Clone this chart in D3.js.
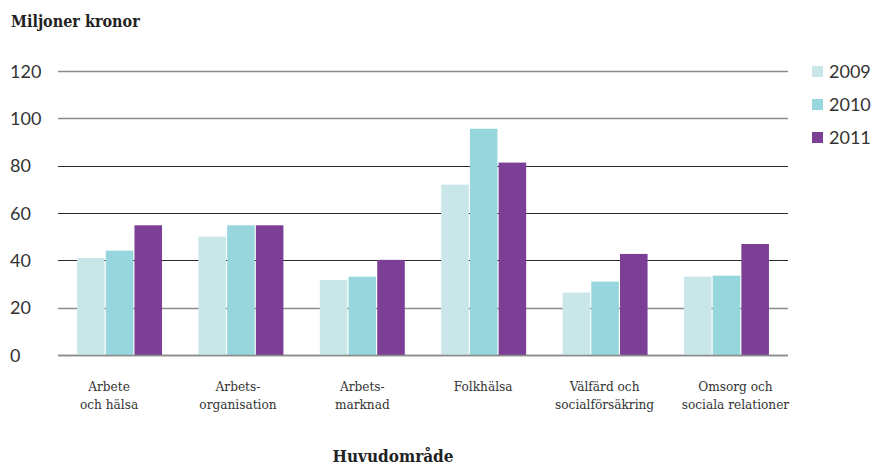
<!DOCTYPE html>
<html><head><meta charset="utf-8">
<script src="https://cdn.jsdelivr.net/npm/d3@7"></script>
<style>body{margin:0;background:#fff}</style>
</head><body>
<svg id="c" width="878" height="465"></svg>
<script>
const categories = [["Arbete","och hälsa"],["Arbets-","organisation"],["Arbets-","marknad"],["Folkhälsa"],["Välfärd och","socialförsäkring"],["Omsorg och","sociala relationer"]];
const years = ["2009","2010","2011"];
const v2009 = [41, 50, 31.7, 72, 26.4, 33.1];
const v2010 = [44.1, 54.8, 33.1, 95.6, 31, 33.5];
const v2011 = [54.8, 54.8, 40.2, 81.3, 42.7, 46.9];
const yTicks = [0, 20, 40, 60, 80, 100, 120];
const colors = ["#c9e7e9", "#96d6dc", "#7b3f96"];
const series = [v2009, v2010, v2011];
const labelShift = [-10.5, -3, 0, -0.5, -0.5, 9];

const svg = d3.select("#c");
const serif = "'DejaVu Serif', serif";
const y = d3.scaleLinear().domain([0, 120]).range([355, 71]);
const x0 = d3.scaleBand().domain(d3.range(categories.length)).range([58, 788]).paddingInner(0.3).paddingOuter(0.157);
const x1 = d3.scaleBand().domain(d3.range(years.length)).range([0, x0.bandwidth()]).paddingInner(0.04);

// gridlines
const grayLines = new Set([0, 20, 100, 120]);
svg.append("g").selectAll("line").data(yTicks).join("line")
  .attr("x1", 58).attr("x2", 788)
  .attr("y1", d => Math.round(y(d)) + 0.5).attr("y2", d => Math.round(y(d)) + 0.5)
  .attr("stroke", d => grayLines.has(d) ? "#8c8c8c" : "#2a2a2a")
  .attr("stroke-width", d => grayLines.has(d) ? 1.6 : 1);

// y labels
svg.append("g").selectAll("text").data(yTicks).join("text")
  .attr("x", 10).attr("y", d => y(d) + 6.5)
  .attr("font-family", "Lato, sans-serif").attr("font-size", 18).attr("fill", "#333")
  .text(d => d);

// bars
const g = svg.append("g");
categories.forEach((c, i) => {
  series.forEach((s, j) => {
    g.append("rect")
      .attr("x", x0(i) + x1(j)).attr("width", x1.bandwidth())
      .attr("y", y(s[i])).attr("height", y(0) - y(s[i]))
      .attr("fill", colors[j]);
  });
});
// baseline over bars
svg.append("line").attr("x1", 58).attr("x2", 788).attr("y1", Math.round(y(0)) + 0.5).attr("y2", Math.round(y(0)) + 0.5)
  .attr("stroke", "#8c8c8c").attr("stroke-width", 1.6);

// category labels
categories.forEach((c, i) => {
  const t = svg.append("text").attr("text-anchor", "middle")
    .attr("font-family", serif).attr("font-size", 13.5).attr("fill", "#333")
    .attr("transform", `translate(${x0(i) + x0.bandwidth() / 2 + labelShift[i]},391)`)
    .style("font-stretch", "condensed");
  c.forEach((line, k) => t.append("tspan").attr("x", 0).attr("y", k * 18).text(line));
});

// title
svg.append("text").attr("x", 11).attr("y", 27).attr("font-family", serif).attr("font-weight", "bold")
  .attr("font-size", 16).attr("fill", "#222").style("font-stretch", "condensed").text("Miljoner kronor");
svg.append("text").attr("x", 393).attr("y", 462).attr("text-anchor", "middle").attr("font-family", serif).attr("font-weight", "bold")
  .attr("font-size", 17).attr("fill", "#222").style("font-stretch", "condensed").text("Huvudområde");

// legend
const lg = svg.append("g").selectAll("g").data(years).join("g")
  .attr("transform", (d, i) => `translate(812,${66 + i * 33})`);
lg.append("rect").attr("width", 11).attr("height", 11).attr("fill", (d, i) => colors[i]);
lg.append("text").attr("x", 17).attr("y", 11.5).attr("font-family", "Lato, sans-serif").attr("font-size", 18).attr("fill", "#333").text(d => d);
</script>
</body></html>
